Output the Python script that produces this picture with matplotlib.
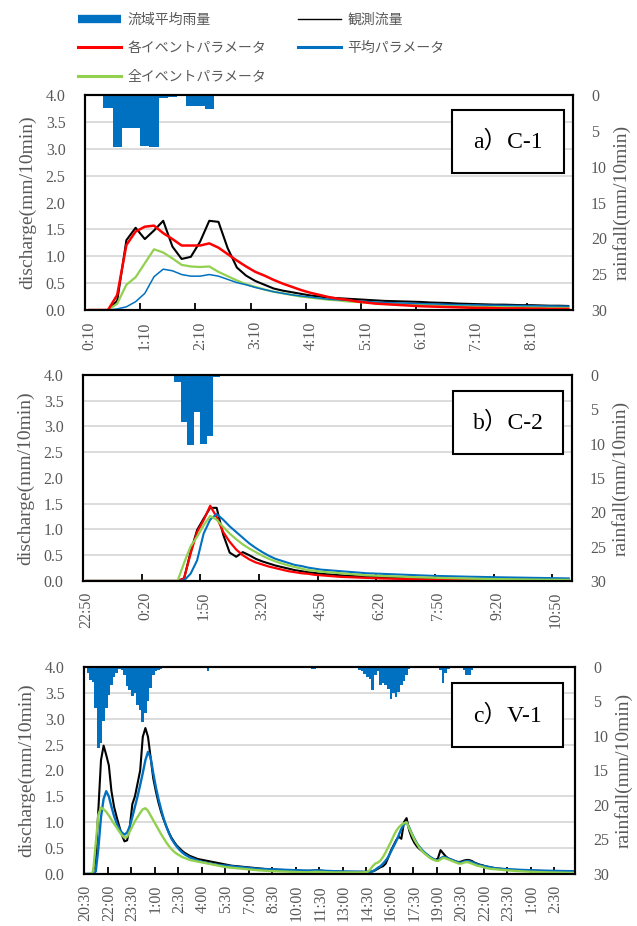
import matplotlib
matplotlib.use("Agg")
import matplotlib.pyplot as plt
from matplotlib.lines import Line2D
from matplotlib.patches import Rectangle
import numpy as np

# ---- a) C-1 : 0:10 - 8:50, 10 min steps ----
a_labels = ['0:10', '1:10', '2:10', '3:10', '4:10', '5:10', '6:10', '7:10', '8:10']
a_rain = [0.2, 0.2, 1.86, 7.2, 4.56, 4.56, 7.07, 7.26, 0.47, 0.3, 0.1, 1.5, 1.5, 2.0, 0.1, 0.05, 0.08] + [0.0] * 36
a_obs = [0, 0, 0, 0.17, 1.30, 1.53, 1.32, 1.48, 1.66, 1.18, 0.95, 0.99, 1.27, 1.66, 1.64, 1.15, 0.79, 0.64,
         0.54, 0.47, 0.40, 0.36, 0.33, 0.30, 0.27, 0.25, 0.23, 0.22, 0.21, 0.20, 0.19, 0.18, 0.17, 0.165,
         0.16, 0.155, 0.15, 0.14, 0.135, 0.13, 0.12, 0.115, 0.11, 0.105, 0.10, 0.10, 0.095, 0.09, 0.09,
         0.085, 0.08, 0.08, 0.075]
a_each = [0, 0, 0, 0.28, 1.21, 1.46, 1.55, 1.57, 1.43, 1.32, 1.20, 1.20, 1.20, 1.24, 1.16, 1.04, 0.92, 0.81,
          0.71, 0.64, 0.56, 0.49, 0.43, 0.37, 0.32, 0.28, 0.24, 0.21, 0.19, 0.16, 0.14, 0.12, 0.11, 0.10,
          0.09, 0.08, 0.07, 0.065, 0.06, 0.055, 0.05, 0.045, 0.04, 0.04, 0.035, 0.03, 0.03, 0.03, 0.025,
          0.025, 0.02, 0.02, 0.02]
a_all = [0, 0, 0, 0.12, 0.47, 0.61, 0.87, 1.13, 1.07, 0.96, 0.84, 0.81, 0.80, 0.81, 0.71, 0.63, 0.55, 0.48,
         0.43, 0.38, 0.34, 0.31, 0.28, 0.25, 0.23, 0.21, 0.19, 0.18, 0.16, 0.15, 0.14, 0.13, 0.12, 0.11,
         0.105, 0.10, 0.095, 0.09, 0.085, 0.08, 0.075, 0.07, 0.07, 0.065, 0.065, 0.06, 0.06, 0.055, 0.055,
         0.05, 0.05, 0.05, 0.05]
a_mean = [0, 0, 0, 0.02, 0.06, 0.155, 0.31, 0.62, 0.76, 0.73, 0.66, 0.63, 0.63, 0.66, 0.63, 0.57, 0.51, 0.47,
          0.42, 0.38, 0.34, 0.31, 0.28, 0.26, 0.24, 0.22, 0.20, 0.19, 0.18, 0.17, 0.16, 0.15, 0.14, 0.135,
          0.13, 0.125, 0.12, 0.115, 0.11, 0.105, 0.10, 0.098, 0.095, 0.092, 0.09, 0.087, 0.085, 0.082, 0.08,
          0.078, 0.076, 0.074, 0.072]

# ---- b) C-2 : 22:50 - 11:10 ----
b_labels = ['22:50', '0:20', '1:50', '3:20', '4:50', '6:20', '7:50', '9:20', '10:50']
b_rain = [0.05] + [0.0] * 9 + [0.1, 0.1, 0, 0, 1.1, 6.8, 10.2, 5.35, 10.1, 8.9, 0.25, 0, 0.1] + [0.0] * 9 + \
         [0.1, 0, 0, 0, 0, 0.1, 0.1] + [0.0] * 36
b_obs = [0.0] * 15 + [0.05, 0.56, 0.99, 1.21, 1.42, 1.42, 0.9, 0.55, 0.47, 0.56, 0.50, 0.43, 0.38, 0.34, 0.30,
                      0.27, 0.24, 0.21, 0.19, 0.17, 0.155, 0.14, 0.13, 0.12, 0.11, 0.10, 0.095, 0.09, 0.085,
                      0.08, 0.075, 0.07, 0.065, 0.06, 0.058, 0.055, 0.052, 0.05, 0.048, 0.046, 0.044, 0.042,
                      0.04, 0.038, 0.036, 0.035, 0.034, 0.033, 0.032, 0.031, 0.03, 0.03, 0.029, 0.028, 0.027,
                      0.026, 0.025, 0.025, 0.024, 0.024]
b_each = [0.0] * 15 + [0.05, 0.53, 0.95, 1.18, 1.46, 1.24, 0.95, 0.76, 0.61, 0.50, 0.42, 0.36, 0.32, 0.28, 0.25,
                       0.22, 0.19, 0.17, 0.15, 0.14, 0.12, 0.11, 0.10, 0.09, 0.08, 0.075, 0.07, 0.065, 0.06,
                       0.055, 0.05, 0.047, 0.044, 0.041, 0.038, 0.035, 0.033, 0.031, 0.029, 0.027, 0.025,
                       0.024, 0.022, 0.021, 0.02, 0.019, 0.018, 0.017, 0.016, 0.015, 0.014, 0.014, 0.013,
                       0.012, 0.012, 0.011, 0.011, 0.01, 0.01, 0.01]
b_all = [0.0] * 15 + [0.35, 0.67, 0.86, 1.08, 1.26, 1.19, 1.05, 0.92, 0.81, 0.71, 0.63, 0.56, 0.49, 0.43, 0.38,
                      0.34, 0.30, 0.27, 0.24, 0.21, 0.20, 0.18, 0.17, 0.16, 0.15, 0.14, 0.13, 0.12, 0.11,
                      0.105, 0.10, 0.095, 0.09, 0.085, 0.08, 0.076, 0.072, 0.068, 0.064, 0.06, 0.057, 0.054,
                      0.051, 0.048, 0.045, 0.043, 0.041, 0.039, 0.037, 0.035, 0.033, 0.031, 0.03, 0.028,
                      0.027, 0.026, 0.025, 0.024, 0.023, 0.022]
b_mean = [0.0] * 15 + [0.01, 0.14, 0.40, 0.92, 1.19, 1.30, 1.19, 1.06, 0.95, 0.84, 0.73, 0.64, 0.56, 0.49, 0.43,
                       0.39, 0.35, 0.31, 0.29, 0.26, 0.24, 0.22, 0.21, 0.20, 0.19, 0.18, 0.17, 0.16, 0.15,
                       0.145, 0.14, 0.135, 0.13, 0.125, 0.12, 0.115, 0.11, 0.105, 0.10, 0.097, 0.094, 0.091,
                       0.088, 0.085, 0.082, 0.08, 0.077, 0.075, 0.072, 0.07, 0.068, 0.066, 0.064, 0.062, 0.06,
                       0.058, 0.056, 0.054, 0.052, 0.05]

# ---- c) V-1 : 20:30 - 3:40 (two days) ----
c_labels = ['20:30', '22:00', '23:30', '1:00', '2:30', '4:00', '5:30', '7:00', '8:30', '10:00', '11:30',
            '13:00', '14:30', '16:00', '17:30', '19:00', '20:30', '22:00', '23:30', '1:00', '2:30']
c_rain = [0, 0.8, 1.9, 2.2, 5.9, 11.7, 11.0, 7.9, 5.9, 4.0, 2.6, 1.4, 0.9, 0.3, 0.5, 1.1, 2.8, 3.4, 4.25, 3.8,
          5.5, 6.2, 8.0, 6.7, 5.0, 3.0, 1.1, 0.6, 0.4, 0.3, 0.2, 0.1] + [0.0] * 13 + \
         [0.1, 0.2, 0.6, 0.2, 0.1] + [0.0] * 27 + [0.2] + [0.0] * 8 + [0.1, 0.3, 0.3, 0.1] + [0.0] * 13 + \
         [0.1, 0.2, 0.4, 0.6, 1.0, 1.5, 1.8, 3.3, 1.2, 0.6, 2.6, 2.3, 2.6, 3.2, 4.7, 3.8, 4.3, 3.6, 2.6, 2.0,
          1.1, 0.3] + [0.0] * 11 + [0.5, 2.3, 0.8, 0.3] + [0.0] * 5 + [0.5, 1.1, 1.2, 0.4, 0.2, 0.1] + [0.0] * 37
c_obs = [0, 0, 0, 0.03, 0.3, 1.24, 2.2, 2.48, 2.3, 2.1,
         1.6, 1.3, 1.1, 0.92, 0.75, 0.63, 0.65, 0.9, 1.35, 1.5,
         1.75, 2.0, 2.65, 2.82, 2.65, 2.25, 1.85, 1.6, 1.38, 1.2,
         1.05, 0.92, 0.8, 0.7, 0.62, 0.55, 0.5, 0.45, 0.41, 0.38,
         0.35, 0.33, 0.31, 0.29, 0.28, 0.27, 0.26, 0.25, 0.24, 0.23,
         0.22, 0.21, 0.2, 0.19, 0.18, 0.17, 0.16, 0.155, 0.15, 0.145,
         0.14, 0.135, 0.13, 0.125, 0.12, 0.115, 0.11, 0.105, 0.1, 0.095,
         0.09, 0.09, 0.085, 0.085, 0.08, 0.08, 0.075, 0.075, 0.07, 0.07,
         0.07, 0.065, 0.065, 0.06, 0.06, 0.06, 0.06, 0.065, 0.07, 0.07,
         0.065, 0.06, 0.055, 0.05, 0.05, 0.05, 0.045, 0.045, 0.045, 0.04,
         0.04, 0.04, 0.04, 0.04, 0.04, 0.04, 0.04, 0.04, 0.04, 0.04,
         0.05, 0.07, 0.1, 0.13, 0.15, 0.2, 0.32, 0.45, 0.55, 0.65,
         0.72, 0.68, 1.0, 1.08, 0.84, 0.7, 0.6, 0.53, 0.48, 0.44,
         0.4, 0.36, 0.32, 0.29, 0.27, 0.3, 0.46, 0.4, 0.34, 0.3,
         0.28, 0.26, 0.24, 0.23, 0.24, 0.26, 0.27, 0.27, 0.25, 0.22,
         0.2, 0.18, 0.17, 0.15, 0.14, 0.13, 0.12, 0.11, 0.105, 0.1,
         0.095, 0.09, 0.085, 0.08, 0.078, 0.076, 0.074, 0.072, 0.07, 0.068,
         0.066, 0.064, 0.062, 0.06, 0.059, 0.058, 0.057, 0.056, 0.055, 0.054,
         0.053, 0.052, 0.051, 0.05, 0.05, 0.049, 0.048, 0.048]
c_mean = [0, 0, 0, 0, 0.05, 0.5, 1.1, 1.45, 1.6, 1.5,
          1.3, 1.12, 0.98, 0.87, 0.8, 0.76, 0.8, 0.92, 1.1, 1.3,
          1.5, 1.72, 1.95, 2.2, 2.36, 2.25, 1.95, 1.68, 1.45, 1.25,
          1.07, 0.92, 0.79, 0.68, 0.6, 0.53, 0.47, 0.42, 0.38, 0.35,
          0.32, 0.3, 0.28, 0.26, 0.245, 0.23, 0.22, 0.21, 0.2, 0.19,
          0.18, 0.175, 0.17, 0.165, 0.16, 0.155, 0.15, 0.145, 0.14, 0.135,
          0.13, 0.125, 0.12, 0.115, 0.11, 0.105, 0.1, 0.098, 0.096, 0.094,
          0.092, 0.09, 0.088, 0.086, 0.084, 0.082, 0.08, 0.078, 0.076, 0.074,
          0.072, 0.07, 0.068, 0.066, 0.065, 0.064, 0.064, 0.066, 0.07, 0.07,
          0.066, 0.062, 0.06, 0.058, 0.056, 0.054, 0.052, 0.05, 0.05, 0.048,
          0.047, 0.046, 0.045, 0.044, 0.043, 0.042, 0.042, 0.041, 0.04, 0.04,
          0.05, 0.08, 0.12, 0.15, 0.2, 0.26, 0.33, 0.43, 0.53, 0.63,
          0.75, 0.87, 0.96, 1.0, 0.9, 0.78, 0.68, 0.59, 0.52, 0.46,
          0.41, 0.37, 0.33, 0.3, 0.27, 0.26, 0.3, 0.33, 0.32, 0.3,
          0.28, 0.26, 0.24, 0.22, 0.22, 0.24, 0.25, 0.25, 0.23, 0.21,
          0.19, 0.17, 0.16, 0.15, 0.14, 0.13, 0.12, 0.11, 0.105, 0.1,
          0.097, 0.094, 0.091, 0.088, 0.085, 0.082, 0.08, 0.078, 0.076, 0.074,
          0.072, 0.07, 0.068, 0.066, 0.065, 0.064, 0.063, 0.062, 0.061, 0.06,
          0.059, 0.058, 0.057, 0.056, 0.055, 0.054, 0.053, 0.052]
c_all = [0, 0, 0, 0.05, 0.6, 1.15, 1.28, 1.25, 1.2, 1.13,
         1.05, 0.97, 0.9, 0.82, 0.75, 0.7, 0.72, 0.82, 0.92, 1.02,
         1.1, 1.18, 1.25, 1.27, 1.22, 1.13, 1.04, 0.95, 0.86, 0.77,
         0.69, 0.61, 0.54, 0.48, 0.43, 0.39, 0.36, 0.33, 0.31, 0.29,
         0.27, 0.26, 0.25, 0.24, 0.23, 0.22, 0.21, 0.2, 0.19, 0.18,
         0.17, 0.16, 0.15, 0.14, 0.13, 0.125, 0.12, 0.115, 0.11, 0.105,
         0.1, 0.095, 0.09, 0.085, 0.08, 0.076, 0.072, 0.068, 0.064, 0.06,
         0.058, 0.056, 0.054, 0.052, 0.05, 0.048, 0.046, 0.044, 0.042, 0.04,
         0.038, 0.036, 0.035, 0.034, 0.033, 0.033, 0.034, 0.038, 0.042, 0.04,
         0.037, 0.035, 0.033, 0.032, 0.031, 0.03, 0.03, 0.03, 0.03, 0.03,
         0.03, 0.03, 0.03, 0.03, 0.03, 0.03, 0.03, 0.035, 0.04, 0.08,
         0.15, 0.2, 0.22, 0.26, 0.33, 0.42, 0.52, 0.62, 0.73, 0.83,
         0.9, 0.95, 0.98, 1.0, 0.88, 0.77, 0.66, 0.58, 0.5, 0.44,
         0.39, 0.35, 0.31, 0.28, 0.26, 0.25, 0.28, 0.31, 0.3, 0.28,
         0.26, 0.24, 0.22, 0.2, 0.2, 0.22, 0.23, 0.22, 0.2, 0.18,
         0.16, 0.15, 0.14, 0.12, 0.11, 0.1, 0.095, 0.09, 0.085, 0.08,
         0.076, 0.072, 0.068, 0.064, 0.06, 0.057, 0.054, 0.051, 0.048, 0.045,
         0.043, 0.041, 0.039, 0.037, 0.035, 0.033, 0.032, 0.031, 0.03, 0.029,
         0.028, 0.027, 0.026, 0.025, 0.024, 0.023, 0.022, 0.021]

RAIN_C = '#0070C0'
OBS_C = '#000000'
EACH_C = '#FF0000'
MEAN_C = '#0070C0'
ALL_C = '#92D050'
GREY = '#595959'
SERIF = ['Liberation Serif', 'DejaVu Serif']
JP = ['Liberation Serif', 'Noto Sans CJK JP']


def draw_panel(rect, rain, lines, labels, step, name, box):
    n = len(rain)
    x = np.arange(n)
    ax = fig.add_axes(rect)
    ax2 = ax.twinx()
    # rain behind, discharge lines in front
    ax.set_zorder(ax2.get_zorder() + 1)
    ax.patch.set_visible(False)
    ax2.patch.set_visible(True)
    ax2.patch.set_facecolor('white')

    ax2.bar(x, rain, width=1.0, color=RAIN_C, linewidth=0)
    ax2.set_ylim(30, 0)
    ax2.set_yticks([0, 5, 10, 15, 20, 25, 30])
    ax2.set_yticks(np.arange(3.75, 30, 3.75), minor=True)
    ax2.grid(which='minor', axis='y', color='#D9D9D9', linewidth=1.3)
    ax2.set_axisbelow(True)
    ax2.tick_params(axis='y', which='both', length=0, pad=13, labelsize=11.5, labelcolor=GREY)
    for t in ax2.get_yticklabels():
        t.set_fontfamily(SERIF)
    ax2.set_ylabel('rainfall(mm/10min)', fontsize=14, color=GREY, family=SERIF, labelpad=4)

    for vals, col, lw in lines:
        ax.plot(x, vals, color=col, linewidth=lw)
    ax.set_xlim(-0.5, n - 0.5)
    ax.set_ylim(0, 4.0)
    ax.set_yticks(np.arange(0, 4.01, 0.5))
    ax.set_yticklabels(['%.1f' % v for v in np.arange(0, 4.01, 0.5)])
    ax.tick_params(axis='y', length=0, pad=14, labelsize=11.5, labelcolor=GREY)
    ax.set_xticks(np.arange(0, n, step)[:len(labels)])
    ax.set_xticklabels(labels, rotation=90)
    ax.set_xticks(np.arange(step - 0.5, n - 0.5, step), minor=True)
    ax.tick_params(axis='x', which='major', length=0, pad=8, labelsize=11.5, labelcolor=GREY)
    ax.tick_params(axis='x', which='minor', length=5, width=1.3, direction='in', color='black')
    for t in ax.get_xticklabels() + ax.get_yticklabels():
        t.set_fontfamily(SERIF)
    ax.set_ylabel('discharge(mm/10min)', fontsize=14, color=GREY, family=SERIF)
    ax.yaxis.set_label_coords(-0.10, 0.5)
    for a in (ax, ax2):
        for s in a.spines.values():
            s.set_linewidth(1.5)
            s.set_color('black')

    ax.add_patch(Rectangle((box[0], box[1]), box[2], box[3], transform=ax.transAxes,
                           facecolor='white', edgecolor='black', linewidth=1.5, zorder=5))
    ax.text(box[0] + box[2] / 2, box[1] + box[3] / 2, name, transform=ax.transAxes,
            ha='center', va='center', fontsize=17, family=JP, zorder=6)
    return ax


fig = plt.figure(figsize=(6.37, 9.26), dpi=100)

draw_panel([0.1334, 0.6652, 0.766, 0.2322], a_rain,
           [(a_obs, OBS_C, 1.5), (a_all, ALL_C, 1.6), (a_mean, MEAN_C, 1.1), (a_each, EACH_C, 1.8)],
           a_labels, 6, 'a）C-1', (0.752, 0.637, 0.23, 0.293))
draw_panel([0.1303, 0.3726, 0.7677, 0.2225], b_rain,
           [(b_obs, OBS_C, 1.5), (b_each, EACH_C, 1.6), (b_mean, MEAN_C, 1.5), (b_all, ALL_C, 1.6)],
           b_labels, 9, 'b）C-2', (0.757, 0.617, 0.225, 0.305))
draw_panel([0.1319, 0.0562, 0.7708, 0.2235], c_rain,
           [(c_obs, OBS_C, 1.5), (c_mean, MEAN_C, 1.7), (c_all, ALL_C, 1.7)],
           c_labels, 9, 'c）V-1', (0.749, 0.615, 0.227, 0.306))

handles = [Line2D([], [], color=RAIN_C, linewidth=6, solid_capstyle='butt'),
           Line2D([], [], color=EACH_C, linewidth=2.2),
           Line2D([], [], color=ALL_C, linewidth=2.2),
           Line2D([], [], color=OBS_C, linewidth=1.0),
           Line2D([], [], color=MEAN_C, linewidth=2.2)]
names = ['流域平均雨量', '各イベントパラメータ', '全イベントパラメータ', '観測流量', '平均パラメータ']
leg = fig.legend(handles, names, loc='upper left', bbox_to_anchor=(0.1225, 0.9865), ncol=2, frameon=False,
                 prop={'family': 'Noto Sans CJK JP', 'size': 10}, handlelength=3.1, handletextpad=0.45,
                 columnspacing=2.3, labelspacing=1.05, borderpad=0, borderaxespad=0)
for t in leg.get_texts():
    t.set_color(GREY)

fig.savefig('out.png', dpi=100)
